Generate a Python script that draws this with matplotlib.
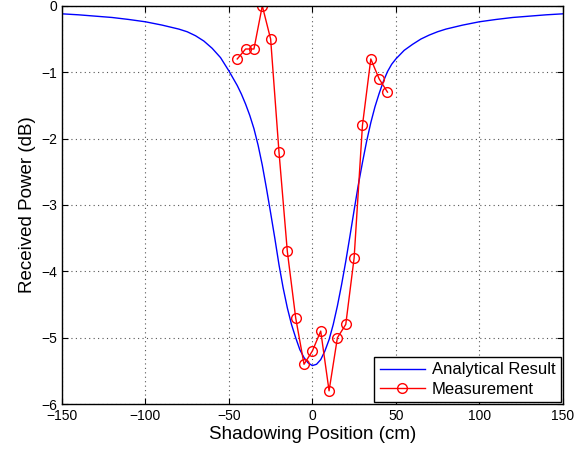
import numpy as np
import matplotlib
matplotlib.use("Agg")
import matplotlib.pyplot as plt

plt.rcParams['font.family'] = ['Liberation Sans', 'DejaVu Sans']

# analytical curve
ana_x = [-150, -140, -130, -120, -110, -100, -90, -85, -80, -75, -70, -65, -60,
         -55, -50, -45, -42.5, -40, -37.5, -35, -32.5, -30, -27.5, -25, -22.5,
         -20, -17.5, -15, -12.5, -10, -7.5, -5, -2.5, 0, 2.5, 5, 7.5, 10, 12.5,
         15, 17.5, 20, 22.5, 25, 27.5, 30, 32.5, 35, 37.5, 40, 42.5, 45, 47.5,
         50, 55, 60, 65, 70, 75, 80, 90, 100, 110, 120, 130, 140, 150]
ana_y = [-0.12, -0.135, -0.155, -0.175, -0.205, -0.24, -0.29, -0.32, -0.35, -0.39,
         -0.45, -0.53, -0.64, -0.78, -0.98, -1.2, -1.33, -1.48, -1.65, -1.85,
         -2.1, -2.4, -2.75, -3.12, -3.5, -3.9, -4.25, -4.55, -4.8, -5.0, -5.18,
         -5.3, -5.38, -5.42, -5.4, -5.33, -5.2, -5.03, -4.8, -4.52, -4.2, -3.85,
         -3.47, -3.08, -2.7, -2.36, -2.04, -1.76, -1.52, -1.32, -1.14, -0.99,
         -0.88, -0.8, -0.67, -0.58, -0.5, -0.44, -0.39, -0.35, -0.29, -0.24,
         -0.205, -0.175, -0.155, -0.135, -0.12]

# measurement points
meas_x = [-45, -40, -35, -30, -25, -20, -15, -10, -5, 0, 5, 10, 15, 20, 25, 30, 35, 40, 45]
meas_y = [-0.8, -0.65, -0.65, 0.0, -0.5, -2.2, -3.7, -4.7, -5.4, -5.2, -4.9, -5.8,
          -5.0, -4.8, -3.8, -1.8, -0.8, -1.1, -1.3]

fig = plt.figure(figsize=(5.79, 4.51), dpi=100)
ax = fig.add_axes([0.107, 0.104, 0.865, 0.883])

ax.plot(ana_x, ana_y, color='blue', lw=1.0, label='Analytical Result')
ax.plot(meas_x, meas_y, color='red', lw=1.0, marker='o', markersize=7,
        markerfacecolor='none', markeredgecolor='red', markeredgewidth=1.0,
        label='Measurement')

ax.set_xlim(-150, 150)
ax.set_ylim(-6, 0)
ax.set_xticks(np.arange(-150, 151, 50))
ax.set_yticks(np.arange(-6, 0.1, 1))
ax.grid(True, linestyle=(0, (1, 3)), color='#555555', lw=0.8)
ax.tick_params(direction='in', top=True, right=True, labelsize=10, length=4)
for s in ax.spines.values():
    s.set_linewidth(1.0)

ax.set_xlabel('Shadowing Position (cm)', fontsize=13.5, labelpad=2)
ax.set_ylabel('Received Power (dB)', fontsize=13.5, labelpad=4)

leg = ax.legend(loc='lower right', fontsize=12, fancybox=False, framealpha=1,
                edgecolor='black', borderaxespad=0.1, handlelength=2.7,
                handletextpad=0.4, borderpad=0.35, labelspacing=0.25)
leg.get_frame().set_linewidth(1.0)

fig.savefig('out.png', dpi=100)
